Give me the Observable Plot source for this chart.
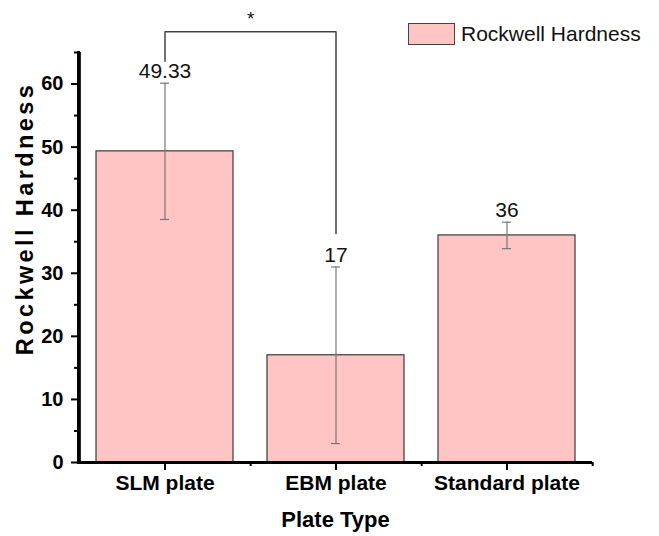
<!DOCTYPE html>
<html><head><meta charset="utf-8">
<script src="https://cdn.jsdelivr.net/npm/d3@7"></script>
<script src="https://cdn.jsdelivr.net/npm/@observablehq/plot@0.6"></script>
<style>
body{margin:0;background:#fff;font-family:Arial,"Liberation Sans",sans-serif;}
#wrap{position:relative;width:659px;height:536px;}
#legend{position:absolute;left:408px;top:22px;display:flex;align-items:center;font-size:21px;color:#111;line-height:23px;}
#legend .sw{display:inline-block;width:45px;height:20px;background:#ffc4c4;border:1.5px solid #444;margin-right:6px;}
</style></head><body><div id="wrap"><div id="legend"><span class="sw"></span><span>Rockwell Hardness</span></div></div>
<script>
const categories = ["SLM plate", "EBM plate", "Standard plate"];
const means = [49.33, 17, 36];
const errors = [10.8, 14, 2.1];
const valueLabels = ["49.33", "17", "36"];
const yTicks = [0, 10, 20, 30, 40, 50, 60];
const yMinorTicks = [5, 15, 25, 35, 45, 55, 65];
const bracketCats = ["SLM plate", "SLM plate", "EBM plate", "EBM plate"];
const bracketVals = [63.6, 68.3, 68.3, 36.3];
const sigLabel = "*";
const sigY = 70.3;
const xTitle = "Plate Type";
const yTitle = "Rockwell Hardness";
const yMax = 65;

const W = 659, H = 536, mL = 78, mR = 67, mT = 52, mB = 74;
const data = categories.map((c, i) => ({c, m: means[i], e: errors[i], label: valueLabels[i]}));
const bracket = bracketCats.map((c, i) => ({c, v: bracketVals[i]}));
const step = (W - mL - mR) / (categories.length - 0.2 + 0.2);

const chart = Plot.plot({
  width: W, height: H, marginLeft: mL, marginRight: mR, marginTop: mT, marginBottom: mB,
  style: {fontFamily: "Arial, 'Liberation Sans', sans-serif", background: "white", color: "#000", overflow: "visible"},
  x: {domain: categories, paddingInner: 0.2, paddingOuter: 0.1, label: null},
  y: {domain: [0, yMax], label: null},
  marks: [
    Plot.barY(data, {x: "c", y: "m", fill: "#ffc4c4", stroke: "#3a3a3a", strokeWidth: 1.2}),
    Plot.ruleX(data, {x: "c", y1: d => d.m - d.e, y2: d => d.m + d.e, stroke: "#777", strokeWidth: 1.2}),
    Plot.tickY(data, {x: "c", y: d => d.m + d.e, stroke: "#777", strokeWidth: 1.2, insetLeft: 64, insetRight: 64}),
    Plot.tickY(data, {x: "c", y: d => d.m - d.e, stroke: "#777", strokeWidth: 1.2, insetLeft: 64, insetRight: 64}),
    Plot.text(data, {x: "c", y: d => d.m + d.e, text: "label", dy: -12, fontSize: 21, fill: "#111"}),
    Plot.line(bracket, {x: "c", y: "v", stroke: "#444", strokeWidth: 1.5}),
    Plot.text([sigLabel], {x: () => categories[0], y: () => sigY, text: d => d, dx: step / 2, fontSize: 19, fill: "#111"}),
    Plot.axisY({ticks: yTicks, tickSize: 7, tickPadding: 8, fontSize: 20, fontWeight: "bold", strokeWidth: 2, label: null}),
    Plot.axisY({ticks: yMinorTicks, tickSize: 4, text: null, strokeWidth: 2, label: null}),
    Plot.axisX({tickSize: 8, tickPadding: 5, fontSize: 21, fontWeight: "bold", strokeWidth: 2, label: null}),
    Plot.axisX({ticks: categories, tickSize: 4, text: null, dx: step / 2, strokeWidth: 2, label: null}),
    Plot.text([xTitle], {frameAnchor: "bottom", text: d => d, dy: 64, fontSize: 22, fontWeight: "bold"}),
    Plot.text([yTitle], {frameAnchor: "left", text: d => d, textAnchor: "middle", lineAnchor: "middle", dx: -53, dy: -39, rotate: -90, fontSize: 23.5, fontWeight: "bold"}),
    Plot.ruleY([0], {stroke: "#000", strokeWidth: 3}),
    Plot.ruleX([categories[0]], {x: d => d, y1: 0, y2: yMax, dx: -step / 2, stroke: "#000", strokeWidth: 3}),
    Plot.frame({anchor: "left", stroke: "#000", strokeWidth: 3})
  ]
});
d3.select(chart).selectAll("text").filter(function() { return this.textContent === yTitle; }).style("letter-spacing", "3.4px");
document.getElementById("wrap").prepend(chart);
</script>
</body></html>
